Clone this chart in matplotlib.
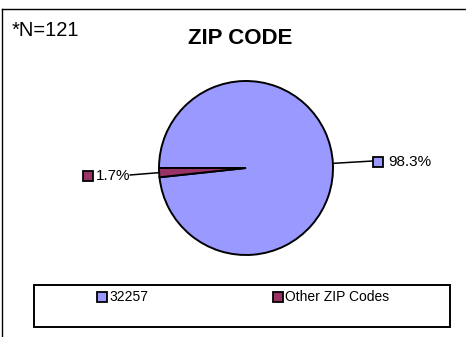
import numpy as np
import matplotlib.pyplot as plt
from matplotlib.lines import Line2D
from matplotlib.patches import Rectangle

plt.rcParams["font.family"] = ["Liberation Sans", "DejaVu Sans"]

# data
categories = ["32257", "Other ZIP Codes"]
shares = [98.3, 1.7]
pct_labels = ["98.3%", "1.7%"]
colors = ["#9999FF", "#993366"]

W, H = 466, 337
fig = plt.figure(figsize=(W / 100, H / 100), dpi=100)

# chart frame (cut off at right and bottom)
fig.add_artist(Line2D([2 / W, 1], [1 - 9 / H, 1 - 9 / H], color="black", lw=1.0))
fig.add_artist(Line2D([2 / W, 2 / W], [0, 1 - 9 / H], color="black", lw=1.0))

fig.text(12 / W, 1 - 31 / H, "*N=121", fontsize=14.5, va="center", ha="left")
fig.text(240 / W, 1 - 39 / H, "ZIP CODE", fontsize=16, fontweight="bold",
         va="center", ha="center")

# pie axes: centre (246,168) px, radius 87 px
cx, cy, r = 246, 168, 87
ax = fig.add_axes([(cx - r) / W, (H - cy - r) / H, 2 * r / W, 2 * r / H])
wedges, _ = ax.pie(shares, colors=colors, startangle=180, counterclock=False,
                   wedgeprops=dict(edgecolor="black", linewidth=1.4))
ax.set_xlim(-1, 1)
ax.set_ylim(-1, 1)
ax.set_aspect("equal")
ax.axis("off")

# data labels: (leader end, marker centre, text left) in radius units
label_pos = [((1.45, 0.08), (1.52, 0.07), (1.63, 0.07)),
             ((-1.33, -0.08), (-1.82, -0.09), (-1.72, -0.09))]
for w, txt, col, (lend, mpos, tpos) in zip(wedges, pct_labels, colors, label_pos):
    mid = np.deg2rad((w.theta1 + w.theta2) / 2)
    ex, ey = np.cos(mid), np.sin(mid)
    ax.plot([ex, lend[0]], [ey, lend[1]], color="black", lw=1.1, clip_on=False)
    ax.plot(mpos[0], mpos[1], marker="s", ms=7, mfc=col, mec="black", mew=1.3,
            clip_on=False)
    ax.text(tpos[0], tpos[1], txt, fontsize=11, ha="left", va="center")

# legend box
fig.add_artist(Rectangle((34 / W, 1 - 327 / H), 416 / W, 42 / H, fill=False,
                         edgecolor="black", lw=1.4, transform=fig.transFigure))
leg_x = [102, 278]
for x, cat, col in zip(leg_x, categories, colors):
    fig.add_artist(Line2D([x / W], [1 - 297 / H], marker="s", ms=7, mfc=col,
                          mec="black", mew=1.3, linestyle="none"))
    fig.text((x + 7) / W, 1 - 297 / H, cat, fontsize=10, ha="left", va="center")

fig.savefig("out.png", dpi=100)
